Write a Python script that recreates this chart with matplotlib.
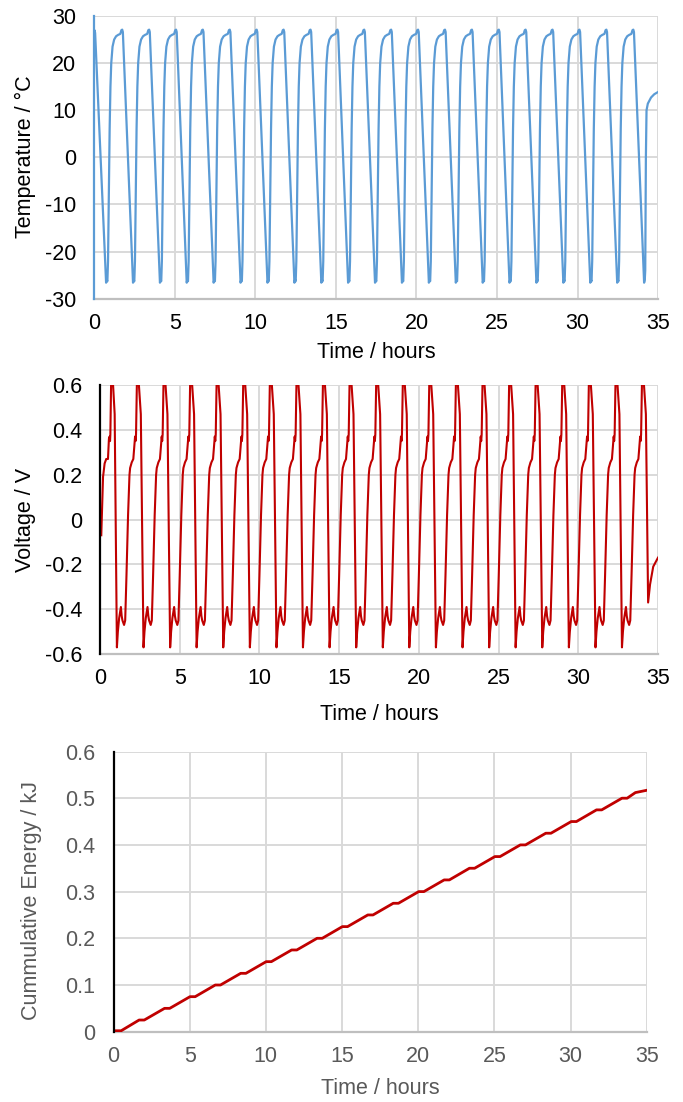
import matplotlib
matplotlib.use("Agg")
import matplotlib.pyplot as plt
from matplotlib.ticker import FuncFormatter

plt.rcParams["font.family"] = ["Liberation Sans", "DejaVu Sans"]
plt.rcParams["axes.unicode_minus"] = False

# ===== 데이터 =====
# 온도: 시작 구간, 한 주기 모양(최저점 기준 시간), 각 주기 최저점 시각, 끝 구간
T_START_T = [0.0, 0.03, 0.07]
T_START_VAL = [26.5, 27.0, 26.4]
T_CYCLE_DT = [0.0, 0.04, 0.08, 0.12, 0.17, 0.22, 0.27, 0.32, 0.40, 0.50, 0.62, 0.75, 0.88, 0.95, 1.00, 1.04]
T_CYCLE_VAL = [-26.6, -26.0, -26.3, -22.0, -8.0, 6.0, 15.0, 20.0, 23.5, 25.0, 25.7, 26.0, 26.2, 27.0, 27.1, 26.6]
T_MIN = [0.75, 2.42, 4.09, 5.75, 7.42, 9.09, 10.76, 12.43, 14.10, 15.76, 17.43,
         19.10, 20.77, 22.44, 24.11, 25.77, 27.44, 29.11, 30.78, 32.45]
T_TAIL_T = [34.12, 34.16, 34.19, 34.23, 34.27, 34.35, 34.55, 34.75, 35.0]
T_TAIL_VAL = [-26.6, -26.0, -24.0, 0.0, 10.0, 11.4, 12.7, 13.4, 13.9]

# 전압
V_START_T = [0.08, 0.14, 0.19, 0.29, 0.39, 0.50, 0.56, 0.60, 0.63, 0.65, 0.72, 0.82, 0.92]
V_START_VAL = [-0.07, 0.08, 0.19, 0.25, 0.27, 0.27, 0.36, 0.37, 0.35, 0.38, 0.72, 0.60, 0.47]
V_CYCLE_DT = [0.00, 0.06, 0.14, 0.25, 0.30, 0.35, 0.45, 0.52, 0.60, 0.70, 0.79, 0.83,
              0.93, 1.03, 1.10, 1.14, 1.17, 1.20, 1.28, 1.38, 1.50]
V_CYCLE_VAL = [-0.57, -0.50, -0.44, -0.39, -0.43, -0.45, -0.47, -0.45, -0.25, 0.02, 0.20, 0.23,
               0.255, 0.27, 0.33, 0.37, 0.35, 0.38, 0.72, 0.60, 0.47]
V_MIN = [1.06, 2.73, 4.40, 6.06, 7.73, 9.40, 11.07, 12.73, 14.40, 16.07, 17.74, 19.40,
         21.07, 22.74, 24.41, 26.07, 27.74, 29.41, 31.08, 32.74]
V_TAIL_T = [34.38, 34.5, 34.7, 35.0]
V_TAIL_VAL = [-0.37, -0.29, -0.21, -0.17]

# 누적 에너지: 계단 평탄 구간 (시작, 끝, 값)
E_FLAT_START = [0.0, 1.68, 3.35, 5.02, 6.68, 8.35, 10.02, 11.69, 13.36, 15.02, 16.69,
                18.36, 20.03, 21.70, 23.36, 25.03, 26.70, 28.37, 30.04, 31.70, 33.37]
E_FLAT_END = [0.50, 2.02, 3.69, 5.36, 7.02, 8.69, 10.36, 12.03, 13.70, 15.36, 17.03,
              18.70, 20.37, 22.04, 23.70, 25.37, 27.04, 28.71, 30.38, 32.04, 33.71]
E_LEVEL = [0.002, 0.025, 0.05, 0.075, 0.10, 0.125, 0.15, 0.175, 0.20, 0.225, 0.25,
           0.275, 0.30, 0.325, 0.35, 0.375, 0.40, 0.425, 0.45, 0.475, 0.50]
E_TAIL_T = [34.25, 35.0]
E_TAIL_VAL = [0.512, 0.517]

X_TICKS = [0, 5, 10, 15, 20, 25, 30, 35]

# ===== 곡선 조립 =====
temp_t = list(T_START_T)
temp_v = list(T_START_VAL)
for m in T_MIN:
    temp_t += [m + d for d in T_CYCLE_DT]
    temp_v += T_CYCLE_VAL
temp_t += T_TAIL_T
temp_v += T_TAIL_VAL

volt_t = list(V_START_T)
volt_v = list(V_START_VAL)
for m in V_MIN:
    volt_t += [m + d for d in V_CYCLE_DT]
    volt_v += V_CYCLE_VAL
volt_t += V_TAIL_T
volt_v += V_TAIL_VAL

en_t, en_v = [], []
for s, e, lv in zip(E_FLAT_START, E_FLAT_END, E_LEVEL):
    en_t += [s, e]
    en_v += [lv, lv]
en_t += E_TAIL_T
en_v += E_TAIL_VAL

# ===== 그림 =====
W, H = 683, 1102
fig = plt.figure(figsize=(W / 100, H / 100), dpi=100)
GRID = "#D9D9D9"
FS = 15.5


def px_axes(x0, x1, y0, y1):
    return fig.add_axes([x0 / W, 1 - y1 / H, (x1 - x0) / W, (y1 - y0) / H])


def style(ax, yticks, ylim, tcolor, spine_color):
    ax.set_xlim(0, 35)
    ax.set_ylim(*ylim)
    ax.set_xticks(X_TICKS)
    ax.set_yticks(yticks)
    ax.yaxis.set_major_formatter(FuncFormatter(lambda v, p: f"{v:g}"))
    ax.grid(True, color=GRID, linewidth=1.4)
    ax.set_axisbelow(True)
    for s in ["top", "right", "bottom"]:
        ax.spines[s].set_visible(False)
    ax.spines["left"].set_color(spine_color)
    ax.spines["left"].set_linewidth(1.6)
    ax.spines["left"].set_zorder(5)
    ax.axhline(ylim[0], color="#BFBFBF", linewidth=1.6, zorder=1, clip_on=False)
    ax.tick_params(length=0, labelsize=FS, labelcolor=tcolor)
    ax.tick_params(axis="y", pad=13)
    ax.tick_params(axis="x", pad=10)


# 온도
ax1 = px_axes(94, 658.3, 16, 298.7)
ax1.plot(temp_t, temp_v, color="#5B9BD5", linewidth=1.6)
style(ax1, [-30, -20, -10, 0, 10, 20, 30], (-30, 30), "black", "#5B9BD5")
fig.text(376 / W, 1 - 358 / H, "Time / hours", ha="center", va="baseline", fontsize=FS)
fig.text(25 / W, 1 - 157 / H, "Temperature / \u00b0C", ha="center", va="center",
         rotation=90, fontsize=FS)

# 전압
ax2 = px_axes(100, 658, 385, 654.1)
ax2.plot(volt_t, volt_v, color="#C00000", linewidth=1.5)
style(ax2, [-0.6, -0.4, -0.2, 0, 0.2, 0.4, 0.6], (-0.6, 0.6), "black", "black")
fig.text(379 / W, 1 - 720 / H, "Time / hours", ha="center", va="baseline", fontsize=FS)
fig.text(25 / W, 1 - 520 / H, "Voltage / V", ha="center", va="center",
         rotation=90, fontsize=FS)

# 누적 에너지
ax3 = px_axes(113.5, 646.8, 751.5, 1031.7)
ax3.plot(en_t, en_v, color="#C00000", linewidth=2.0)
style(ax3, [0, 0.1, 0.2, 0.3, 0.4, 0.5, 0.6], (0, 0.6), "#595959", "black")
fig.text(380 / W, 1 - 1094 / H, "Time / hours", ha="center", va="baseline",
         fontsize=FS, color="#595959")
fig.text(32 / W, 1 - 900 / H, "Cummulative Energy / kJ", ha="center", va="center",
         rotation=90, fontsize=FS, color="#595959")

fig.savefig("out.png", dpi=100)
